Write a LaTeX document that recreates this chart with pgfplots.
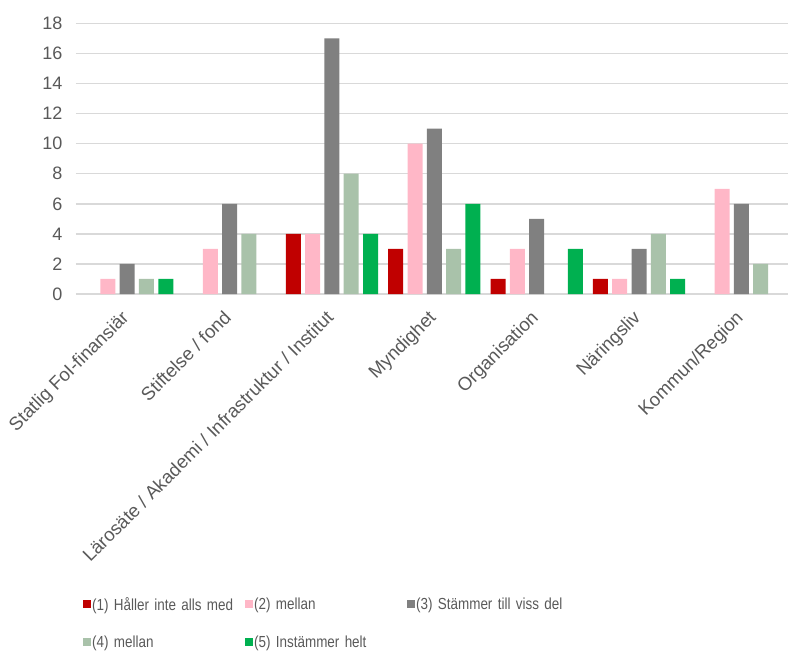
\documentclass[border=0pt]{standalone}
\usepackage{pgfplots}
\pgfplotsset{compat=1.18}
\usepackage{fontspec}
\setmainfont{Liberation Sans}[FakeStretch=0.84]
\newfontfamily\tickfont{Liberation Sans}
\definecolor{c1}{HTML}{C00000}
\definecolor{c2}{HTML}{FFB7C7}
\definecolor{c3}{HTML}{808080}
\definecolor{c4}{HTML}{A9C2AA}
\definecolor{c5}{HTML}{00B050}
\definecolor{txt}{HTML}{595959}
\definecolor{grd}{HTML}{D9D9D9}
\begin{document}
\begin{tikzpicture}
\begin{axis}[
  at={(0,0)}, anchor=south west,
  scale only axis,
  width=716.6pt, height=270.6pt,
  ybar=4.3pt, bar width=15pt,
  xmin=-0.5, xmax=6.5, ymin=0, ymax=18,
  ytick={0,2,...,18},
  xtick={0,...,6},
  xticklabels={Statlig FoI-finansiär, Stiftelse / fond, Lärosäte / Akademi / Infrastruktur / Institut, Myndighet, Organisation, Näringsliv, Kommun/Region},
  xticklabel style={xshift=-7pt, yshift=-15pt, rotate=45, anchor=north east, inner sep=0pt, font=\tickfont\fontsize{18.6}{21}\selectfont},
  yticklabel style={xshift=-10pt},
  tick label style={font=\tickfont\fontsize{18}{21}\selectfont, text=txt},
  /pgf/number format/assume math mode=true,
  major tick length=0pt,
  ymajorgrids, grid style={grd, line width=1.5pt},
  axis x line*=bottom, axis y line*=left,
  x axis line style={draw=grd, line width=1.5pt},
  y axis line style={draw=none},
  legend columns=3,
  legend style={at={(0.0056,-1.105)}, anchor=north west, draw=none, fill=none,
    font=\fontsize{16}{19}\selectfont, text=txt,
    nodes={text width=152pt, inner xsep=1pt, inner ysep=2pt, align=left},
    /tikz/every odd row/.append style={row sep=20pt}},
  legend image code/.code={\fill[#1] (0pt,-4pt) rectangle (8pt,4pt);},
  legend cell align=left,
  clip=false,
]
\addplot[fill=c1, draw=none] coordinates {(2,4) (3,3) (4,1) (5,1)};
\addplot[fill=c2, draw=none] coordinates {(0,1) (1,3) (2,4) (3,10) (4,3) (5,1) (6,7)};
\addplot[fill=c3, draw=none] coordinates {(0,2) (1,6) (2,17) (3,11) (4,5) (5,3) (6,6)};
\addplot[fill=c4, draw=none] coordinates {(0,1) (1,4) (2,8) (3,3) (5,4) (6,2)};
\addplot[fill=c5, draw=none] coordinates {(0,1) (2,4) (3,6) (4,3) (5,1)};
\legend{(1) Håller inte alls med, (2) mellan, (3) Stämmer till viss del, (4) mellan, (5) Instämmer helt}
\end{axis}
\pgfresetboundingbox
\path (-76pt,-357pt) rectangle (712pt,294pt);
\end{tikzpicture}
\end{document}
